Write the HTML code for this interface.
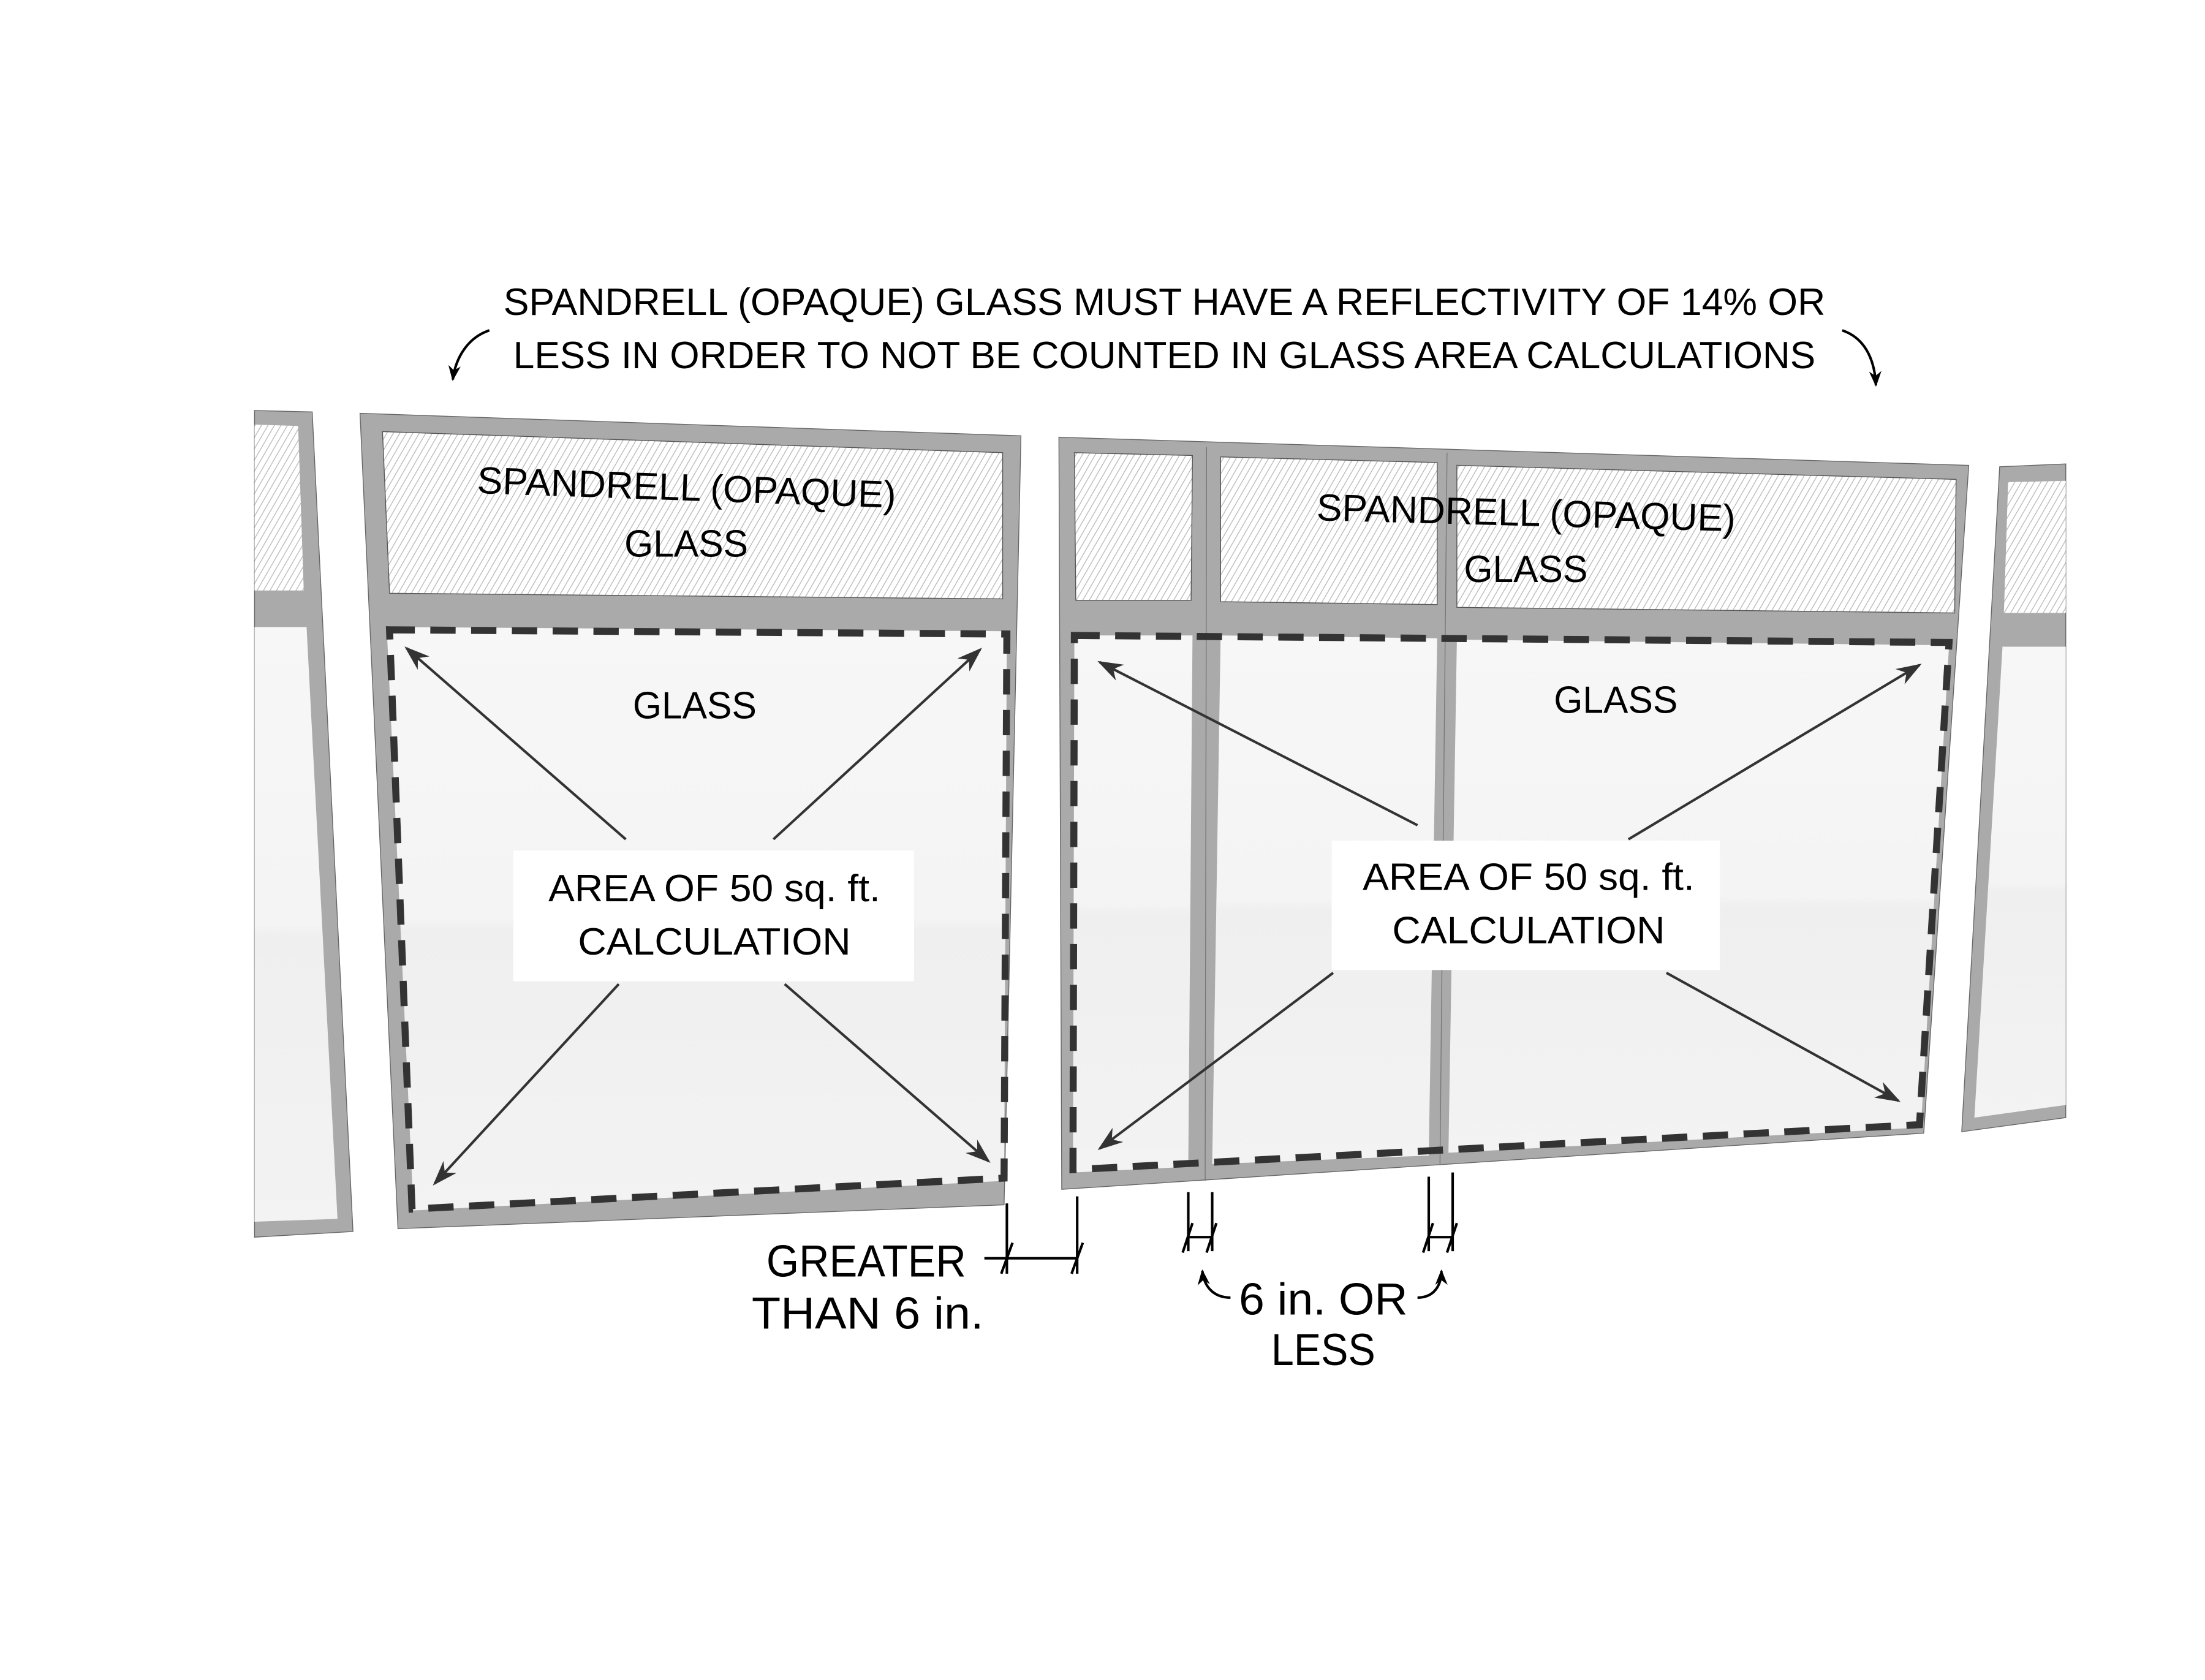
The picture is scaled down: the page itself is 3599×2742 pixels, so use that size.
<!DOCTYPE html>
<html><head><meta charset="utf-8"><style>
html,body{margin:0;padding:0;background:#fff;}
svg{display:block;}
text{font-family:"Liberation Sans",sans-serif;fill:#000;}
</style></head><body>
<svg width="3599" height="2742" viewBox="0 0 1568 1195" preserveAspectRatio="none" xmlns="http://www.w3.org/2000/svg">
<defs>
<pattern id="h" width="4" height="4" patternUnits="userSpaceOnUse" patternTransform="rotate(30)">
<rect width="4" height="4" fill="#fff"/>
<line x1="0" y1="0" x2="0" y2="4" stroke="#b5b5b5" stroke-width="1.1"/>
</pattern>
<linearGradient id="g" x1="0" y1="0" x2="0" y2="1">
<stop offset="0" stop-color="#f7f7f7"/><stop offset="0.5" stop-color="#f4f4f4"/><stop offset="0.52" stop-color="#efefef"/><stop offset="1" stop-color="#f3f3f3"/>
</linearGradient>
<marker id="a" viewBox="0 0 10 10" refX="9" refY="5" markerWidth="18" markerHeight="18" orient="auto-start-reverse" markerUnits="userSpaceOnUse">
<path d="M0,1.5 L10,5 L0,8.5 L3,5 z" fill="#333"/></marker>
<marker id="b" viewBox="0 0 10 10" refX="9" refY="5" markerWidth="11" markerHeight="11" orient="auto" markerUnits="userSpaceOnUse">
<path d="M0,1 L10,5 L0,9 L3,5 z" fill="#000"/></marker>
</defs>

<polygon points="181,292 222,293 251,876 181,880" fill="#aaa" stroke="#666" stroke-width="0.6"/>
<polygon points="181,302 212,303 216,420 181,420" fill="url(#h)"/>
<polygon points="181,446 218,446 240,867 181,869" fill="url(#g)"/>

<polygon points="256,294 726,310 714,857 283,874" fill="#aaa" stroke="#666" stroke-width="0.6"/>
<polygon points="272,307 713,322 713,426 277,422" fill="url(#h)" stroke="#555" stroke-width="0.6"/>
<polygon points="275,446 716,449 714,840 294,861" fill="url(#g)"/>
<polygon points="277,448 716,451 714,838 293,860" fill="none" stroke="#333" stroke-width="5" stroke-dasharray="18,11"/>

<polygon points="753,311 1400,331 1368,806 755,846" fill="#aaa" stroke="#666" stroke-width="0.6"/>
<polygon points="764,322 848,324 847,427 765,427" fill="url(#h)" stroke="#555" stroke-width="0.6"/>
<polygon points="868,325 1022,329 1022,430 868,428" fill="url(#h)" stroke="#555" stroke-width="0.6"/>
<polygon points="1036,331 1391,341 1390,436 1036,432" fill="url(#h)" stroke="#555" stroke-width="0.6"/>
<polygon points="764,452 848,452 845,830 763,834" fill="url(#g)"/>
<polygon points="868,452 1022,454 1016,822 862,828" fill="url(#g)"/>
<polygon points="1036,455 1386,459 1366,802 1030,820" fill="url(#g)"/>
<line x1="858" y1="318" x2="857" y2="840" stroke="#777" stroke-width="0.6"/>
<line x1="1029" y1="322" x2="1024" y2="828" stroke="#777" stroke-width="0.6"/>
<polygon points="764,452 1386,457 1365,800 763,832" fill="none" stroke="#333" stroke-width="5" stroke-dasharray="18,11"/>

<polygon points="1422,332 1469,330 1469,795 1395,805" fill="#aaa" stroke="#666" stroke-width="0.6"/>
<polygon points="1428,343 1469,342 1469,436 1425,436" fill="url(#h)"/>
<polygon points="1424,460 1469,460 1469,786 1404,795" fill="url(#g)"/>

<rect x="365" y="605" width="285" height="93" fill="#fff"/>
<rect x="947" y="598" width="276" height="92" fill="#fff"/>

<g stroke="#333" stroke-width="1.8" fill="none">
<line x1="445" y1="597" x2="289" y2="461" marker-end="url(#a)"/>
<line x1="550" y1="597" x2="697" y2="462" marker-end="url(#a)"/>
<line x1="440" y1="700" x2="309" y2="842" marker-end="url(#a)"/>
<line x1="558" y1="700" x2="703" y2="826" marker-end="url(#a)"/>
<line x1="1008" y1="587" x2="782" y2="471" marker-end="url(#a)"/>
<line x1="1158" y1="597" x2="1365" y2="473" marker-end="url(#a)"/>
<line x1="948" y1="692" x2="782" y2="817" marker-end="url(#a)"/>
<line x1="1185" y1="692" x2="1350" y2="783" marker-end="url(#a)"/>
</g>

<g font-size="27" text-anchor="middle">
<text x="828" y="224" textLength="940" lengthAdjust="spacingAndGlyphs">SPANDRELL (OPAQUE) GLASS MUST HAVE A REFLECTIVITY OF 14% OR</text>
<text x="828" y="262" textLength="926" lengthAdjust="spacingAndGlyphs">LESS IN ORDER TO NOT BE COUNTED IN GLASS AREA CALCULATIONS</text>
<text x="488" y="356" textLength="298" lengthAdjust="spacingAndGlyphs" transform="rotate(2 488 356)">SPANDRELL (OPAQUE)</text>
<text x="488" y="396" textLength="88" lengthAdjust="spacingAndGlyphs">GLASS</text>
<text x="1085" y="374" textLength="298" lengthAdjust="spacingAndGlyphs" transform="rotate(1.5 1085 374)">SPANDRELL (OPAQUE)</text>
<text x="1085" y="414" textLength="88" lengthAdjust="spacingAndGlyphs">GLASS</text>
<text x="494" y="511" textLength="88" lengthAdjust="spacingAndGlyphs">GLASS</text>
<text x="1149" y="507" textLength="88" lengthAdjust="spacingAndGlyphs">GLASS</text>
<text x="508" y="641" textLength="236" lengthAdjust="spacingAndGlyphs">AREA OF 50 sq. ft.</text>
<text x="508" y="679" textLength="194" lengthAdjust="spacingAndGlyphs">CALCULATION</text>
<text x="1087" y="633" textLength="236" lengthAdjust="spacingAndGlyphs">AREA OF 50 sq. ft.</text>
<text x="1087" y="671" textLength="194" lengthAdjust="spacingAndGlyphs">CALCULATION</text>
</g>
<g font-size="32" text-anchor="middle">
<text x="616" y="908" textLength="142" lengthAdjust="spacingAndGlyphs">GREATER</text>
<text x="617" y="945" textLength="165" lengthAdjust="spacingAndGlyphs">THAN 6 in.</text>
<text x="941" y="935" textLength="120" lengthAdjust="spacingAndGlyphs">6 in. OR</text>
<text x="941" y="971" textLength="74" lengthAdjust="spacingAndGlyphs">LESS</text>
</g>

<g stroke="#000" stroke-width="1.8" fill="none">
<line x1="716" y1="856" x2="716" y2="906"/>
<line x1="766" y1="851" x2="766" y2="906"/>
<line x1="700" y1="895" x2="766" y2="895"/>
<line x1="712" y1="906" x2="720" y2="884"/>
<line x1="762" y1="906" x2="770" y2="884"/>
<line x1="845" y1="848" x2="845" y2="890"/>
<line x1="862" y1="848" x2="862" y2="890"/>
<line x1="845" y1="880" x2="862" y2="880"/>
<line x1="841" y1="891" x2="848" y2="870"/>
<line x1="858" y1="891" x2="865" y2="870"/>
<line x1="1016" y1="837" x2="1016" y2="890"/>
<line x1="1033" y1="834" x2="1033" y2="890"/>
<line x1="1016" y1="880" x2="1033" y2="880"/>
<line x1="1012" y1="891" x2="1019" y2="870"/>
<line x1="1029" y1="891" x2="1036" y2="870"/>
<path d="M875,923 C862,923 856,914 855,904" marker-end="url(#b)"/>
<path d="M1008,923 C1020,923 1025,914 1025,904" marker-end="url(#b)"/>
<path d="M348,235 C333,240 324,254 322,270" marker-end="url(#b)"/>
<path d="M1310,235 C1325,240 1333,254 1334,274" marker-end="url(#b)"/>
</g>
</svg>
</body></html>
